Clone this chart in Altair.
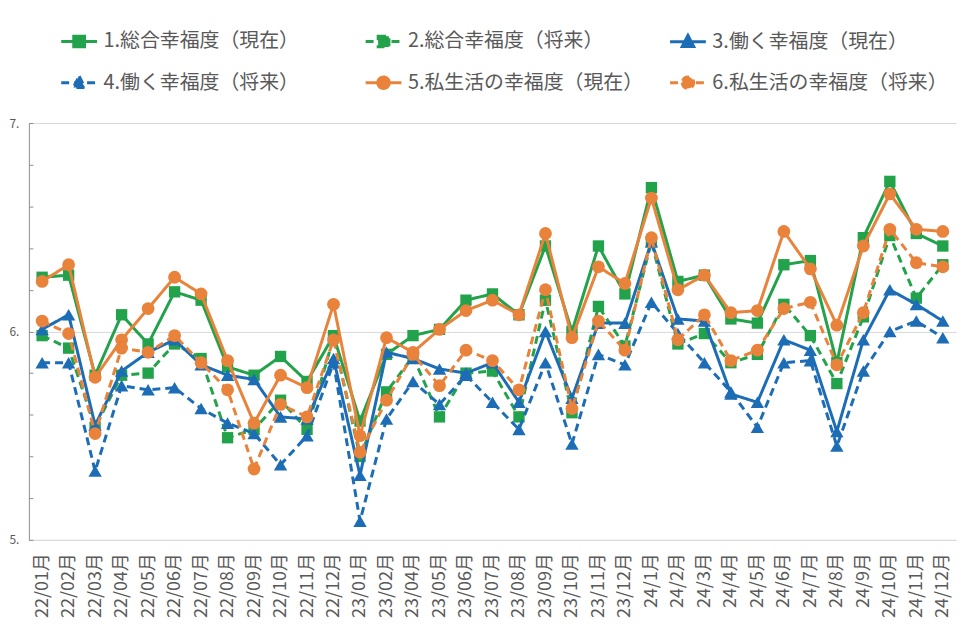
import altair as alt
import pandas as pd

months = [
    "22/01月", "22/02月", "22/03月", "22/04月", "22/05月", "22/06月",
    "22/07月", "22/08月", "22/09月", "22/10月", "22/11月", "22/12月",
    "23/01月", "23/02月", "23/04月", "23/05月", "23/06月", "23/07月",
    "23/08月", "23/09月", "23/10月", "23/11月", "23/12月",
    "24/1月", "24/2月", "24/3月", "24/4月", "24/5月", "24/6月",
    "24/7月", "24/8月", "24/9月", "24/10月", "24/11月", "24/12月",
]

names = [
    "1.総合幸福度（現在）",
    "2.総合幸福度（将来）",
    "3.働く幸福度（現在）",
    "4.働く幸福度（将来）",
    "5.私生活の幸福度（現在）",
    "6.私生活の幸福度（将来）",
]

s1 = [6.26, 6.27, 5.79, 6.08, 5.94, 6.19, 6.15, 5.83, 5.79, 5.88, 5.76, 5.98,
      5.57, 5.89, 5.98, 6.01, 6.15, 6.18, 6.08, 6.41, 6.00, 6.41, 6.18,
      6.69, 6.24, 6.27, 6.06, 6.04, 6.32, 6.34, 5.85, 6.45, 6.72, 6.47, 6.41]
s2 = [5.98, 5.92, 5.54, 5.79, 5.80, 5.94, 5.87, 5.49, 5.53, 5.67, 5.53, 5.97,
      5.40, 5.71, 5.88, 5.59, 5.80, 5.81, 5.59, 6.15, 5.61, 6.12, 5.93,
      6.43, 5.94, 5.99, 5.85, 5.89, 6.13, 5.98, 5.75, 6.07, 6.46, 6.16, 6.32]
s3 = [6.01, 6.08, 5.55, 5.81, 5.90, 5.96, 5.84, 5.79, 5.77, 5.59, 5.58, 5.87,
      5.31, 5.90, 5.87, 5.82, 5.80, 5.85, 5.66, 6.00, 5.68, 6.04, 6.04,
      6.43, 6.06, 6.05, 5.70, 5.66, 5.96, 5.91, 5.52, 5.96, 6.20, 6.13, 6.05]
s4 = [5.85, 5.85, 5.33, 5.74, 5.72, 5.73, 5.63, 5.56, 5.51, 5.36, 5.50, 5.85,
      5.09, 5.58, 5.76, 5.65, 5.79, 5.66, 5.53, 5.85, 5.46, 5.89, 5.84,
      6.14, 5.99, 5.85, 5.71, 5.54, 5.85, 5.86, 5.45, 5.81, 6.00, 6.05, 5.97]
s5 = [6.24, 6.32, 5.78, 5.96, 6.11, 6.26, 6.18, 5.86, 5.56, 5.79, 5.73, 6.13,
      5.50, 5.97, 5.90, 6.01, 6.10, 6.15, 6.08, 6.47, 5.97, 6.31, 6.23,
      6.64, 6.20, 6.27, 6.09, 6.10, 6.48, 6.30, 6.03, 6.41, 6.66, 6.49, 6.48]
s6 = [6.05, 5.99, 5.51, 5.92, 5.90, 5.98, 5.85, 5.72, 5.34, 5.65, 5.59, 5.96,
      5.42, 5.67, 5.89, 5.74, 5.91, 5.86, 5.72, 6.20, 5.63, 6.05, 5.91,
      6.45, 5.96, 6.08, 5.86, 5.91, 6.11, 6.14, 5.84, 6.09, 6.49, 6.33, 6.31]

y_tick_values = [5.0, 5.1, 5.2, 5.3, 5.4, 5.5, 5.6, 5.7, 5.8, 5.9, 6.0,
                 6.1, 6.2, 6.3, 6.4, 6.5, 6.6, 6.7, 6.8, 6.9, 7.0]

series_values = [s1, s2, s3, s4, s5, s6]

GREEN = "#22a24a"
BLUE = "#1c6db5"
ORANGE = "#e9823a"
colors = [GREEN, GREEN, BLUE, BLUE, ORANGE, ORANGE]
SOLID = [1, 0]
DASH = [8, 5]
dashes = [SOLID, DASH, SOLID, DASH, SOLID, DASH]
shapes = ["square", "square", "triangle-up", "triangle-up", "circle", "circle"]
sizes = [130, 130, 180, 180, 165, 165]

SQ = "M-1,0H1M-0.3,-0.3H0.3V0.3H-0.3Z"
TRI = "M-1,0H1M0,-0.36L0.32,0.26H-0.32Z"
CIR = "M-1,0H1M-0.32,0A0.32,0.32 0 1,0 0.32,0A0.32,0.32 0 1,0 -0.32,0Z"
legend_paths = [SQ, SQ, TRI, TRI, CIR, CIR]

# legend grid fills column by column: order entries so rows read 1-2-3 / 4-5-6
legend_order = [0, 3, 1, 4, 2, 5]
leg_names = [names[i] for i in legend_order]
leg_colors = [colors[i] for i in legend_order]
leg_dashes = [dashes[i] for i in legend_order]
leg_paths = [legend_paths[i] for i in legend_order]

rows = []
for name, vals in zip(names, series_values):
    for m, v in zip(months, vals):
        rows.append({"month": m, "series": name, "value": v})
df = pd.DataFrame(rows)

FONT = "Noto Sans CJK JP"
TEXT = "#595959"

x_enc = alt.X(
    "month:N",
    sort=months,
    scale=alt.Scale(domain=months, padding=0.5),
    axis=alt.Axis(
        title=None, labelAngle=270, labelFont=FONT, labelFontSize=18,
        labelColor=TEXT, ticks=False, domainColor="#d9d9d9", domainWidth=1,
        labelPadding=13, grid=False, labelOverlap=False,
    ),
)
y_enc = alt.Y(
    "value:Q",
    scale=alt.Scale(domain=[5, 7], zero=False, nice=False),
    axis=alt.Axis(
        title=None,
        values=y_tick_values,
        labelExpr="abs(datum.value - round(datum.value)) < 0.001 ? (round(datum.value) + '.') : ''",
        gridColor={
            "condition": {"test": "abs(datum.value - round(datum.value)) < 0.001", "value": "#d9d9d9"},
            "value": "transparent",
        },
        gridWidth=1,
        tickColor="#8c8c8c",
        tickSize={"expr": "-4"},
        domainColor="#8c8c8c",
        labelFont=FONT,
        labelFontSize=12,
        labelColor=TEXT,
        labelPadding=14,
        labelOverlap=False,
    ),
)

base = alt.Chart(df).encode(x=x_enc, y=y_enc)

layers = []
for i, name in enumerate(names):
    sub = base.transform_filter(alt.datum.series == name)
    layers.append(sub.mark_line(color=colors[i], strokeWidth=3, strokeDash=dashes[i]))
    layers.append(sub.mark_point(filled=True, shape=shapes[i], size=sizes[i],
                                 color=colors[i], opacity=1, strokeWidth=0))

leg_df = pd.DataFrame({"month": [months[0]] * 6, "value": [None] * 6, "series": leg_names})
legend_layer = alt.Chart(leg_df).mark_point(filled=True, opacity=1, strokeWidth=3).encode(
    x=alt.X("month:N", sort=months),
    y=alt.Y("value:Q"),
    fill=alt.Fill("series:N", scale=alt.Scale(domain=leg_names, range=leg_colors), legend=alt.Legend(title=None)),
    stroke=alt.Stroke("series:N", scale=alt.Scale(domain=leg_names, range=leg_colors), legend=alt.Legend(title=None)),
    shape=alt.Shape("series:N", scale=alt.Scale(domain=leg_names, range=leg_paths), legend=alt.Legend(title=None)),
    strokeDash=alt.StrokeDash("series:N", scale=alt.Scale(domain=leg_names, range=leg_dashes), legend=alt.Legend(title=None)),
)
layers.append(legend_layer)

chart = alt.layer(*layers).properties(
    width=932,
    height=419,
    autosize=alt.AutoSizeParams(type="none"),
    padding={"left": 21, "top": 114, "right": 12, "bottom": 92},
    background="white",
).configure_view(
    stroke=None
).configure_legend(
    orient="none",
    legendX=31,
    legendY=-102,
    columns=3,
    gridAlign="all",
    columnPadding=20,
    rowPadding=10,
    symbolSize=1296,
    symbolStrokeWidth=3,
    labelFont=FONT,
    labelFontSize=20,
    labelColor=TEXT,
    labelOffset=5,
    symbolOffset=0,
    padding=0,
    labelLimit=400,
)

chart.save("out.html", embed_options={"renderer": "svg", "actions": False})
